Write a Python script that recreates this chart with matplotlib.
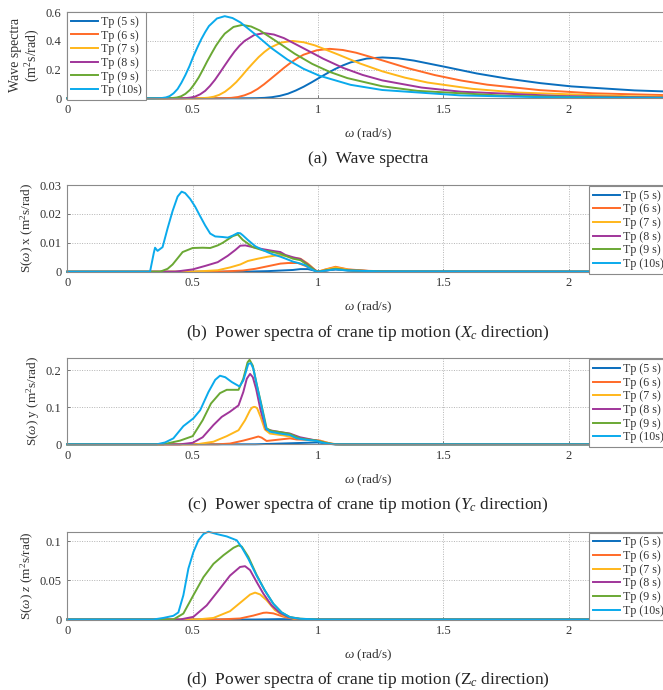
import matplotlib
matplotlib.use("Agg")
import matplotlib.pyplot as plt

# legend labels and colours (MATLAB-like order)
labels = ["Tp (5 s)", "Tp (6 s)", "Tp (7 s)", "Tp (8 s)", "Tp (9 s)", "Tp (10s)"]
colors = ["#0A6EBD", "#FF6A28", "#FFB71B", "#A0359A", "#6AA834", "#0AAAEC"]

# (a) wave spectra
a_w5 = [0, 0.691, 0.754, 0.786, 0.817, 0.848, 0.880, 0.911, 0.943, 0.974, 1.006, 1.037, 1.068, 1.100, 1.131, 1.194, 1.257, 1.320, 1.383, 1.508, 1.634, 1.760, 1.886, 2.011, 2.263, 2.514]
a_s5 = [0, 0, 0.001, 0.003, 0.008, 0.017, 0.032, 0.054, 0.081, 0.111, 0.144, 0.175, 0.204, 0.230, 0.251, 0.277, 0.285, 0.279, 0.263, 0.219, 0.173, 0.136, 0.106, 0.083, 0.055, 0.040]
a_w6 = [0, 0.576, 0.628, 0.654, 0.681, 0.707, 0.733, 0.759, 0.785, 0.811, 0.838, 0.864, 0.890, 0.916, 0.942, 0.995, 1.047, 1.099, 1.152, 1.256, 1.361, 1.466, 1.571, 1.675, 1.885, 2.094, 2.618]
a_s6 = [0, 0, 0.001, 0.003, 0.009, 0.021, 0.039, 0.065, 0.098, 0.135, 0.174, 0.212, 0.247, 0.278, 0.304, 0.335, 0.345, 0.337, 0.318, 0.265, 0.209, 0.162, 0.124, 0.095, 0.057, 0.035, 0.012]
a_w7 = [0, 0.494, 0.539, 0.561, 0.584, 0.606, 0.629, 0.651, 0.674, 0.696, 0.718, 0.741, 0.763, 0.786, 0.808, 0.853, 0.898, 0.943, 0.988, 1.078, 1.167, 1.257, 1.347, 1.437, 1.616, 1.796, 2.245, 2.694]
a_s7 = [0, 0, 0.001, 0.004, 0.011, 0.024, 0.046, 0.076, 0.113, 0.156, 0.202, 0.246, 0.287, 0.323, 0.352, 0.389, 0.400, 0.391, 0.369, 0.307, 0.243, 0.188, 0.144, 0.110, 0.066, 0.040, 0.014, 0.006]
a_w8 = [0, 0.432, 0.471, 0.491, 0.510, 0.530, 0.550, 0.569, 0.589, 0.608, 0.628, 0.648, 0.667, 0.687, 0.707, 0.746, 0.785, 0.824, 0.864, 0.942, 1.021, 1.099, 1.178, 1.256, 1.413, 1.570, 1.963, 2.355, 2.748]
a_s8 = [0, 0, 0.001, 0.005, 0.012, 0.028, 0.052, 0.086, 0.129, 0.177, 0.229, 0.280, 0.326, 0.367, 0.400, 0.442, 0.455, 0.445, 0.420, 0.349, 0.276, 0.213, 0.163, 0.125, 0.075, 0.046, 0.016, 0.006, 0.003]
a_w9 = [0, 0.384, 0.419, 0.436, 0.454, 0.471, 0.489, 0.506, 0.524, 0.541, 0.558, 0.576, 0.593, 0.611, 0.628, 0.663, 0.698, 0.733, 0.768, 0.838, 0.907, 0.977, 1.047, 1.117, 1.256, 1.396, 1.745, 2.094, 2.443]
a_s9 = [0, 0, 0.002, 0.005, 0.014, 0.031, 0.058, 0.097, 0.145, 0.200, 0.258, 0.315, 0.367, 0.413, 0.451, 0.498, 0.512, 0.501, 0.473, 0.393, 0.311, 0.240, 0.184, 0.141, 0.084, 0.052, 0.018, 0.007, 0.003]
a_w10 = [0, 0.345, 0.377, 0.393, 0.408, 0.424, 0.440, 0.455, 0.471, 0.487, 0.502, 0.518, 0.534, 0.550, 0.565, 0.597, 0.628, 0.659, 0.691, 0.754, 0.816, 0.879, 0.942, 1.005, 1.130, 1.256, 1.570, 1.884, 2.198, 2.512]
a_s10 = [0, 0, 0.002, 0.006, 0.015, 0.035, 0.065, 0.108, 0.162, 0.223, 0.289, 0.352, 0.411, 0.462, 0.504, 0.557, 0.573, 0.560, 0.529, 0.440, 0.348, 0.269, 0.206, 0.158, 0.094, 0.058, 0.020, 0.008, 0.004, 0.002]

# (b) crane tip Xc power spectra
b_w5 = [0, 0.70, 0.80, 0.85, 0.90, 0.93, 0.96, 0.98, 1.00, 1.03, 1.07, 1.11, 1.18, 1.30, 2.5]
b_s5 = [0, 0, 0.0002, 0.0004, 0.0006, 0.0009, 0.0009, 0.0005, 0, 0.0004, 0.0008, 0.0005, 0.0002, 0, 0]
b_w6 = [0, 0.60, 0.70, 0.75, 0.80, 0.85, 0.88, 0.92, 0.95, 0.99, 1.00, 1.03, 1.07, 1.12, 1.20, 1.32, 2.5]
b_s6 = [0, 0, 0.0004, 0.0010, 0.0019, 0.0028, 0.0030, 0.0030, 0.0020, 0.0004, 0, 0.0008, 0.0017, 0.0008, 0.0003, 0, 0]
b_w7 = [0, 0.50, 0.60, 0.65, 0.69, 0.72, 0.76, 0.80, 0.84, 0.87, 0.90, 0.93, 0.96, 0.99, 1.00, 1.03, 1.07, 1.12, 1.20, 1.30, 2.5]
b_s7 = [0, 0, 0.0005, 0.0015, 0.0025, 0.0037, 0.0045, 0.0052, 0.0057, 0.0055, 0.0048, 0.0045, 0.0028, 0.0005, 0, 0.0007, 0.0015, 0.0007, 0.0002, 0, 0]
b_w8 = [0, 0.43, 0.50, 0.55, 0.60, 0.64, 0.67, 0.69, 0.71, 0.74, 0.78, 0.82, 0.85, 0.87, 0.90, 0.93, 0.96, 0.99, 1.00, 1.04, 1.07, 1.12, 1.25, 2.5]
b_s8 = [0, 0, 0.0008, 0.0020, 0.0033, 0.0055, 0.0075, 0.0090, 0.0091, 0.0085, 0.0078, 0.0072, 0.0068, 0.0058, 0.0050, 0.0044, 0.0025, 0.0004, 0, 0.0005, 0.0009, 0.0005, 0.0001, 0]
b_w9 = [0, 0.37, 0.40, 0.42, 0.46, 0.50, 0.54, 0.57, 0.60, 0.62, 0.66, 0.68, 0.70, 0.74, 0.78, 0.82, 0.85, 0.88, 0.90, 0.93, 0.96, 0.99, 1.00, 1.04, 1.07, 1.12, 1.25, 2.5]
b_s9 = [0, 0, 0.0010, 0.0025, 0.0068, 0.0082, 0.0083, 0.0082, 0.0091, 0.0100, 0.0123, 0.0129, 0.0110, 0.0085, 0.0074, 0.0068, 0.0062, 0.0052, 0.0045, 0.0040, 0.0022, 0.0003, 0, 0.0006, 0.0010, 0.0005, 0.0001, 0]
b_w10 = [0, 0.33, 0.345, 0.35, 0.36, 0.38, 0.40, 0.42, 0.44, 0.456, 0.47, 0.49, 0.51, 0.53, 0.55, 0.57, 0.59, 0.62, 0.64, 0.66, 0.68, 0.69, 0.70, 0.72, 0.75, 0.78, 0.80, 0.82, 0.85, 0.88, 0.90, 0.93, 0.95, 0.97, 0.99, 1.00, 1.04, 1.07, 1.12, 1.25, 2.5]
b_s10 = [0, 0, 0.0065, 0.0083, 0.0072, 0.0085, 0.0150, 0.0210, 0.0260, 0.0277, 0.0272, 0.0252, 0.0225, 0.0192, 0.0160, 0.0132, 0.0122, 0.0120, 0.0118, 0.0125, 0.0134, 0.0133, 0.0126, 0.0110, 0.0088, 0.0075, 0.0067, 0.0060, 0.0052, 0.0042, 0.0035, 0.0028, 0.0022, 0.0010, 0.0002, 0, 0.0005, 0.0008, 0.0004, 0.0001, 0]

# (c) crane tip Yc power spectra
c_w5 = [0, 0.75, 0.85, 0.95, 1.00, 1.05, 1.10, 2.5]
c_s5 = [0, 0, 0.002, 0.004, 0.005, 0.001, 0, 0]
c_w6 = [0, 0.60, 0.649, 0.702, 0.736, 0.762, 0.775, 0.795, 0.835, 0.888, 0.915, 0.968, 1.008, 1.05, 1.08, 2.5]
c_s6 = [0, 0, 0.002, 0.010, 0.016, 0.021, 0.018, 0.009, 0.012, 0.016, 0.013, 0.012, 0.010, 0.002, 0, 0]
c_w7 = [0, 0.516, 0.583, 0.636, 0.683, 0.709, 0.729, 0.737, 0.745, 0.752, 0.758, 0.771, 0.788, 0.808, 0.862, 0.902, 0.955, 1.008, 1.05, 1.07, 2.5]
c_s7 = [0, 0, 0.007, 0.022, 0.038, 0.065, 0.092, 0.099, 0.101, 0.100, 0.096, 0.074, 0.040, 0.029, 0.024, 0.019, 0.012, 0.009, 0.002, 0, 0]
c_w8 = [0, 0.45, 0.50, 0.54, 0.583, 0.616, 0.649, 0.683, 0.702, 0.716, 0.729, 0.74, 0.753, 0.771, 0.793, 0.815, 0.848, 0.888, 0.928, 0.995, 1.04, 1.07, 2.5]
c_s8 = [0, 0, 0.004, 0.019, 0.052, 0.074, 0.088, 0.105, 0.141, 0.177, 0.190, 0.181, 0.150, 0.092, 0.040, 0.037, 0.033, 0.029, 0.019, 0.010, 0.002, 0, 0]
c_w9 = [0, 0.383, 0.45, 0.50, 0.54, 0.573, 0.609, 0.636, 0.683, 0.702, 0.719, 0.727, 0.74, 0.755, 0.775, 0.795, 0.815, 0.848, 0.888, 0.928, 0.995, 1.035, 1.07, 2.5]
c_s9 = [0, 0, 0.010, 0.022, 0.065, 0.110, 0.138, 0.147, 0.147, 0.177, 0.221, 0.228, 0.212, 0.163, 0.105, 0.043, 0.036, 0.033, 0.028, 0.016, 0.010, 0.003, 0, 0]
c_w10 = [0, 0.357, 0.39, 0.423, 0.463, 0.503, 0.53, 0.563, 0.59, 0.609, 0.63, 0.656, 0.687, 0.702, 0.722, 0.732, 0.742, 0.755, 0.775, 0.793, 0.808, 0.848, 0.888, 0.915, 0.955, 0.995, 1.02, 1.06, 2.5]
c_s10 = [0, 0, 0.005, 0.016, 0.049, 0.070, 0.092, 0.141, 0.174, 0.185, 0.181, 0.168, 0.156, 0.172, 0.217, 0.219, 0.204, 0.163, 0.101, 0.043, 0.034, 0.029, 0.025, 0.016, 0.012, 0.009, 0.004, 0, 0]

# (d) crane tip Zc power spectra
d_w5 = [0, 0.75, 0.85, 0.95, 2.5]
d_s5 = [0, 0, 0.0005, 0, 0]
d_w6 = [0, 0.60, 0.689, 0.742, 0.782, 0.795, 0.822, 0.862, 0.902, 0.95, 2.5]
d_s6 = [0, 0, 0.0013, 0.0050, 0.0085, 0.0088, 0.0078, 0.0036, 0.0008, 0, 0]
d_w7 = [0, 0.516, 0.583, 0.649, 0.702, 0.729, 0.749, 0.769, 0.795, 0.828, 0.862, 0.902, 0.95, 2.5]
d_s7 = [0, 0, 0.002, 0.0106, 0.0246, 0.0318, 0.0343, 0.032, 0.0246, 0.012, 0.0047, 0.0013, 0, 0]
d_w8 = [0, 0.45, 0.503, 0.556, 0.603, 0.649, 0.689, 0.709, 0.729, 0.755, 0.782, 0.815, 0.848, 0.882, 0.93, 1.0, 2.5]
d_s8 = [0, 0, 0.0034, 0.018, 0.037, 0.056, 0.067, 0.068, 0.063, 0.048, 0.033, 0.018, 0.0085, 0.003, 0.0005, 0, 0]
d_w9 = [0, 0.423, 0.463, 0.503, 0.543, 0.583, 0.623, 0.663, 0.683, 0.696, 0.722, 0.755, 0.788, 0.822, 0.855, 0.888, 0.93, 1.0, 2.5]
d_s9 = [0, 0, 0.0076, 0.031, 0.054, 0.071, 0.082, 0.0915, 0.0945, 0.093, 0.080, 0.057, 0.037, 0.020, 0.009, 0.003, 0.001, 0, 0]
d_w10 = [0, 0.343, 0.383, 0.423, 0.443, 0.463, 0.483, 0.503, 0.523, 0.543, 0.563, 0.596, 0.636, 0.676, 0.696, 0.722, 0.755, 0.788, 0.822, 0.855, 0.888, 0.928, 1.0, 2.5]
d_s10 = [0, 0, 0.002, 0.0047, 0.009, 0.031, 0.065, 0.086, 0.101, 0.109, 0.112, 0.109, 0.106, 0.101, 0.092, 0.0775, 0.056, 0.037, 0.020, 0.009, 0.003, 0.001, 0, 0]

xticks = [0, 0.5, 1, 1.5, 2]
xticklabels = ["0", "0.5", "1", "1.5", "2"]

plt.rcParams["font.family"] = ["Liberation Serif", "DejaVu Serif"]
plt.rcParams["mathtext.fontset"] = "custom"
plt.rcParams["mathtext.rm"] = "Liberation Serif"
plt.rcParams["mathtext.it"] = "Liberation Serif:italic"

panels = [
    ([(a_w5, a_s5), (a_w6, a_s6), (a_w7, a_s7), (a_w8, a_s8), (a_w9, a_s9), (a_w10, a_s10)],
     0.6, [0, 0.2, 0.4, 0.6], ["0", "0.2", "0.4", "0.6"],
     "Wave spectra\n(m$^2$s/rad)", "(a)  Wave spectra", "upper left"),
    ([(b_w5, b_s5), (b_w6, b_s6), (b_w7, b_s7), (b_w8, b_s8), (b_w9, b_s9), (b_w10, b_s10)],
     0.03, [0, 0.01, 0.02, 0.03], ["0", "0.01", "0.02", "0.03"],
     "S($\\omega$) x (m$^2$s/rad)", "(b)  Power spectra of crane tip motion ($X_c$ direction)", "upper right"),
    ([(c_w5, c_s5), (c_w6, c_s6), (c_w7, c_s7), (c_w8, c_s8), (c_w9, c_s9), (c_w10, c_s10)],
     0.232, [0, 0.1, 0.2], ["0", "0.1", "0.2"],
     "S($\\omega$) y (m$^2$s/rad)", "(c)  Power spectra of crane tip motion ($Y_c$ direction)", "upper right"),
    ([(d_w5, d_s5), (d_w6, d_s6), (d_w7, d_s7), (d_w8, d_s8), (d_w9, d_s9), (d_w10, d_s10)],
     0.112, [0, 0.05, 0.1], ["0", "0.05", "0.1"],
     "S($\\omega$) $z$ (m$^2$s/rad)", "(d)  Power spectra of crane tip motion (Z$_c$ direction)", "upper right"),
]

W, H = 663, 690
fig = plt.figure(figsize=(W / 100, H / 100), dpi=100)
# pixel boxes (top, bottom) of each axes; right side runs past the crop like the source
boxes = [(12.3, 98.3), (185.0, 271.7), (358.3, 444.3), (531.7, 619.5)]
left_px, width_px = 67.3, 2.4 * 250.7

for (series, ytop, yt, ytl, ylab, cap, legloc), (top, bot) in zip(panels, boxes):
    ax = fig.add_axes([left_px / W, (H - bot) / H, width_px / W, (bot - top) / H])
    for (w, s), c, lab in zip(series, colors, labels):
        ax.plot(w, s, color=c, lw=1.4, label=lab, clip_on=False)
    ax.set_xlim(0, 2.4)
    ax.set_ylim(0, ytop)
    ax.set_xticks(xticks)
    ax.set_xticklabels(xticklabels)
    ax.set_yticks(yt)
    ax.set_yticklabels(ytl)
    ax.tick_params(direction="in", length=2.5, width=0.6, colors="#666666",
                   labelcolor="#333333", labelsize=9, pad=4)
    ax.grid(True, color="#b4b4b4", linestyle=(0, (1, 1.5)), linewidth=0.7)
    ax.set_axisbelow(True)
    for sp in ax.spines.values():
        sp.set_color("#8a8a8a")
        sp.set_linewidth(0.8)
    ax.set_xlabel("$\\omega$ (rad/s)", fontsize=9.5, color="#333333")
    ax.xaxis.set_label_coords(0.5, -28 / (bot - top))
    ylab_size = 10 if legloc == "upper left" else 9.5
    ax.set_ylabel(ylab, fontsize=ylab_size, color="#333333", labelpad=3, linespacing=1.15)
    pad = 0 if legloc == "upper left" else 0.1
    leg = ax.legend(loc=legloc, fontsize=8.6, frameon=True, fancybox=False, framealpha=1,
                    edgecolor="#8a8a8a", handlelength=2.3, handletextpad=0.25,
                    labelspacing=0.14, borderpad=0.3, borderaxespad=pad)
    leg.get_frame().set_linewidth(0.8)
    for t in leg.get_texts():
        t.set_color("#333333")
    ax.text(0.5, -61 / (bot - top), cap, transform=ax.transAxes, ha="center", va="center",
            fontsize=12.5, color="#222222")

fig.savefig("out.png", dpi=100)
print("wrote out.png")
